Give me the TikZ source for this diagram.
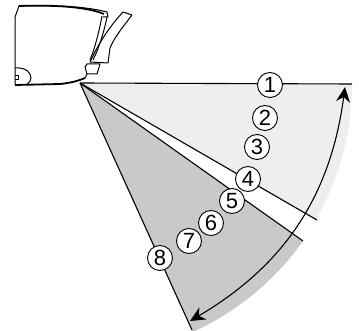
\documentclass[tikz,border=0pt]{standalone}
\usepackage{fontspec}
\setmainfont{Liberation Sans}
\usetikzlibrary{arrows.meta}
\definecolor{fanlight}{RGB}{238, 238, 238}
\definecolor{fandark}{RGB}{200, 202, 202}
\tikzset{
  posn/.style={
    circle, draw=black, fill=white, line width=0.9pt,
    minimum size=25pt, inner sep=0pt, font=\fontsize{22}{22}\selectfont
  },
  ray/.style={line width=1.1pt, color=black},
  unit/.style={line width=1pt, color=black, line join=round},
  swing/.style={{Stealth[length=15pt,width=14pt]}-{Stealth[length=15pt,width=14pt]}, line width=1.1pt},
}
\begin{document}
\begin{tikzpicture}[x=1pt, y=-1pt]
    \useasboundingbox (0,0) rectangle (359,331);
    \coordinate (apex) at (80,83);
    \coordinate (topend) at (352,84);
    \coordinate (lightend) at (317,220);
    \coordinate (darkend) at (303,241);
    \coordinate (lowend) at (192,330);
    \coordinate (swingtop) at (345,87);
    \coordinate (swinglow) at (190,321);

    % sectors
    \fill[fanlight] (apex) -- (topend) arc[start angle=0, end angle=30, radius=273] -- cycle;
    \fill[fandark] (apex) -- (darkend) arc[start angle=35.3, end angle=65.6, radius=273] -- cycle;

    % indoor unit
    \draw[unit] (15,85) -- (15,17) -- (19,6) .. controls (50,5) and (85,6) .. (107,12) -- (108,17) -- (103,17);
    \draw[unit, line width=1.8pt] (19,6) .. controls (50,5) and (85,6) .. (104,14);
    \draw[unit, line width=1.8pt] (15,85) -- (60,84) .. controls (70,83) and (78,81) .. (85,78);
    \draw[unit] (15,68) .. controls (26,67) and (31,73) .. (31,78) .. controls (31,81) and (29,83) .. (27,84);
    \draw[unit] (15,76) -- (18,76) -- (18,80) -- (15,80);
    \draw[unit] (102,16) .. controls (99,32) and (95,48) .. (90,60);
    \draw[unit] (107,17) .. controls (104,32) and (99,48) .. (93,60);
    \draw[unit] (87,64) -- (85,67) -- (87,74) -- (97,74) -- (100,64) -- cycle;
    \draw[unit] (87,74) -- (85,78);
    \draw[unit] (90,62) .. controls (100,40) and (112,24) .. (123,12) -- (132,15) .. controls (122,28) and (114,38) .. (110,48) -- (108,63) -- cycle;

    % limits of the swing
    \draw[ray] (apex) -- (topend);
    \draw[ray] (apex) -- (lightend);
    \draw[ray] (apex) -- (darkend);
    \draw[ray] (apex) -- (lowend);
    \draw[swing] (swinglow) to[bend right=26] (swingtop);

    \node[posn] (p1) at (270,85) {1};
    \node[posn] (p2) at (265,118) {2};
    \node[posn] (p3) at (257,147) {3};
    \node[posn] (p4) at (248,179) {4};
    \node[posn] (p5) at (232,201) {5};
    \node[posn] (p6) at (211,223) {6};
    \node[posn] (p7) at (189,241) {7};
    \node[posn] (p8) at (160,258) {8};
\end{tikzpicture}
\end{document}
